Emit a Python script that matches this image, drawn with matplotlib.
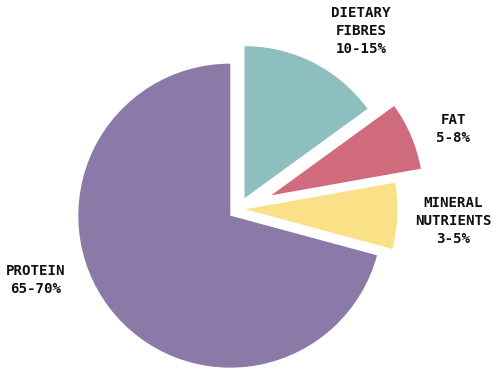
import matplotlib.pyplot as plt

# --- data ---
labels = ["DIETARY\nFIBRES\n10-15%", "FAT\n5-8%", "MINERAL\nNUTRIENTS\n3-5%", "PROTEIN\n65-70%"]
shares = [15.0, 7.2, 7.0, 70.8]

colors = ["#8cbfbd", "#d06b7e", "#fae087", "#8b79a8"]
explode = [0.08, 0.23, 0.042, 0.072]

# label spots in pixels (x, y from top)
label_px = [(361, 31), (453, 129), (453, 221), (36, 280)]

W, H = 497, 376
cx, cy, R = 239, 209, 152

fig = plt.figure(figsize=(W / 100, H / 100), dpi=100)
ax = fig.add_axes([0, 0, 1, 1])

ax.pie(shares, colors=colors, explode=explode, startangle=90,
       counterclock=False, radius=1.0, wedgeprops=dict(linewidth=0))

ax.set_xlim(-cx / R, (W - cx) / R)
ax.set_ylim(-(H - cy) / R, cy / R)
ax.set_aspect('auto')
ax.axis('off')

for txt, (px, py) in zip(labels, label_px):
    ax.text((px - cx) / R, (cy - py) / R, txt, ha='center', va='center',
            family='DejaVu Sans Mono', fontweight='bold', fontsize=10.2,
            linespacing=1.37, color='#111111')

fig.savefig("out.png", dpi=100)
